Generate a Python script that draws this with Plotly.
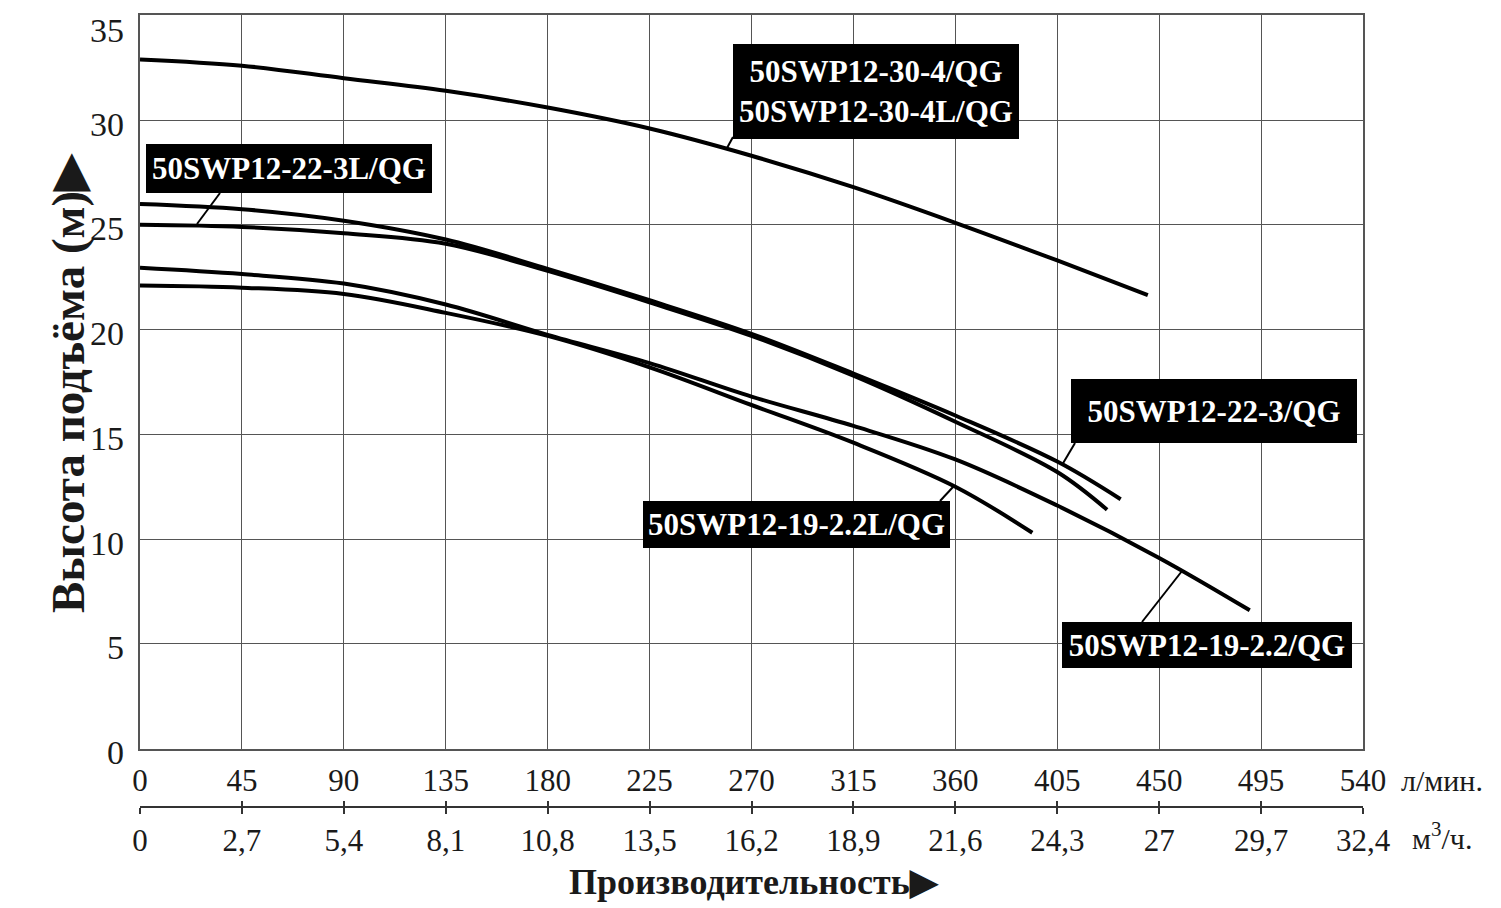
import plotly.graph_objects as go

# Pump head curves: flow (l/min) vs head (m)
flow_30_4 = [0, 45, 90, 135, 180, 225, 270, 315, 360, 405, 445]
head_30_4 = [32.9, 32.6, 32.0, 31.4, 30.6, 29.6, 28.3, 26.8, 25.1, 23.3, 21.65]

flow_22_3 = [0, 45, 90, 135, 180, 225, 270, 315, 360, 405, 433]
head_22_3 = [26.0, 25.75, 25.2, 24.3, 22.9, 21.4, 19.8, 17.9, 15.9, 13.7, 11.9]

flow_22_3l = [0, 45, 90, 135, 180, 225, 270, 315, 360, 405, 427]
head_22_3l = [25.0, 24.9, 24.6, 24.1, 22.8, 21.3, 19.7, 17.8, 15.6, 13.2, 11.4]

flow_19_22 = [0, 45, 90, 135, 180, 225, 270, 315, 360, 405, 450, 490]
head_19_22 = [22.95, 22.65, 22.2, 21.2, 19.75, 18.4, 16.8, 15.4, 13.8, 11.6, 9.1, 6.6]

flow_19_22l = [0, 45, 90, 135, 180, 225, 270, 315, 360, 394]
head_19_22l = [22.1, 22.0, 21.7, 20.8, 19.7, 18.2, 16.4, 14.6, 12.5, 10.3]

flow_ticks = [0, 45, 90, 135, 180, 225, 270, 315, 360, 405, 450, 495, 540]
m3h_ticks = ["0", "2,7", "5,4", "8,1", "10,8", "13,5", "16,2", "18,9",
             "21,6", "24,3", "27", "29,7", "32,4"]
head_ticks = [0, 5, 10, 15, 20, 25, 30, 35]

curve_labels = [
    "50SWP12-30-4/QG<br>50SWP12-30-4L/QG",
    "50SWP12-22-3L/QG",
    "50SWP12-22-3/QG",
    "50SWP12-19-2.2/QG",
    "50SWP12-19-2.2L/QG",
]

# --- page geometry (page pixels; the page body adds an 8px offset) ---
OFF = 8
W, H = 1501 - OFF, 908 - OFF
PL, PR = 140, 1363          # plot left/right
PT, PB = 15, 807            # paper top / bottom (second axis line)
AX0 = 748.5                 # y of zero-head line
FONT = "Liberation Serif"
GRID = "#555555"
INK = "#1a1a1a"
M3H = 0.06                  # l/min -> m3/h


def px(xp, yp):
    return (xp - PL) / (PR - PL), (PB - yp) / (PB - PT)


fig = go.Figure()
for fl, hd in [(flow_30_4, head_30_4), (flow_22_3, head_22_3),
               (flow_22_3l, head_22_3l), (flow_19_22, head_19_22),
               (flow_19_22l, head_19_22l)]:
    fig.add_trace(go.Scatter(
        x=fl, y=hd, mode="lines",
        line=dict(color="black", width=4, shape="spline", smoothing=1.0),
        showlegend=False, hoverinfo="skip",
    ))

# invisible copies so the m3/h axes get drawn
for ax in ("x2", "x3"):
    fig.add_trace(go.Scatter(
        x=[v * M3H for v in flow_30_4], y=head_30_4, xaxis=ax, mode="lines",
        line=dict(width=0), opacity=0, showlegend=False, hoverinfo="skip",
    ))

# label boxes: (text, centre px, width, height), pointer (from px, to px)
boxes = [
    (curve_labels[0], (876, 91.5), 286, 95, (733, 137), (727, 148)),
    (curve_labels[1], (289, 168.5), 286, 49, (220, 193), (197, 224)),
    (curve_labels[2], (1214, 411), 286, 64, (1075, 443), (1062, 465)),
    (curve_labels[3], (1207, 645), 290, 46, (1142, 622), (1182, 571)),
    (curve_labels[4], (796.5, 524.5), 307, 47, (940, 501), (953, 487)),
]

annotations = []
shapes = []
for text, (cx, cy), bw, bh, p0, p1 in boxes:
    x, y = px(cx, cy)
    annotations.append(dict(
        text=f"<b>{text}</b>", x=x, y=y, xref="paper", yref="paper",
        xanchor="center", yanchor="middle", showarrow=False,
        width=bw, height=bh, bgcolor="black", borderpad=0, borderwidth=0,
        font=dict(family=FONT, size=31, color="white"), align="center",
    ))
    x0, y0 = px(*p0)
    x1, y1 = px(*p1)
    shapes.append(dict(type="line", xref="paper", yref="paper",
                       x0=x0, y0=y0, x1=x1, y1=y1,
                       line=dict(color="black", width=2)))

# head tick labels (sit a little below their grid lines, top one inside)
for v in head_ticks:
    annotations.append(dict(
        text=str(v), x=px(126, 0)[0], y=v, xref="paper", yref="y",
        xanchor="right", yanchor="middle", showarrow=False,
        yshift=-15 if v == head_ticks[-1] else -4,
        font=dict(family=FONT, size=34, color=INK),
    ))

# axis titles and units
for text, (cx, cy), size, angle, bold in [
    ("Высота подъёма (м)▶", (68, 383), 47, -90, True),
    ("Производительность▶", (754, 882), 36, 0, True),
    ("л/мин.", (1442, 780), 30, 0, False),
    ("м<sup>3</sup>/ч.", (1442, 836), 30, 0, False),
]:
    x, y = px(cx, cy)
    annotations.append(dict(
        text=f"<b>{text}</b>" if bold else text, x=x, y=y,
        xref="paper", yref="paper", xanchor="center", yanchor="middle",
        showarrow=False, textangle=angle,
        font=dict(family=FONT, size=size, color=INK),
    ))

fig.update_layout(
    width=W, height=H,
    margin=dict(l=PL - OFF, r=W - (PR - OFF), t=PT - OFF, b=H - (PB - OFF),
                pad=0, autoexpand=False),
    paper_bgcolor="white", plot_bgcolor="white",
    font=dict(family=FONT, color=INK),
    xaxis=dict(
        range=[0, 540], tickvals=flow_ticks, showgrid=True,
        gridcolor=GRID, gridwidth=1.3, showline=True, mirror=True,
        linecolor=GRID, linewidth=2, zeroline=False, ticks="",
        tickfont=dict(size=31), ticklabelstandoff=3, anchor="y",
        automargin=False,
    ),
    xaxis2=dict(
        range=[0, 32.4], tickvals=[v * M3H for v in flow_ticks],
        ticktext=m3h_ticks, overlaying="x", anchor="free", position=0,
        side="bottom", showgrid=False, zeroline=False, showline=True,
        linecolor="#333333", linewidth=2, ticks="outside", ticklen=6,
        tickwidth=2, tickcolor="#333333", tickfont=dict(size=31),
        ticklabelstandoff=0, automargin=False,
    ),
    xaxis3=dict(
        range=[0, 32.4], tickvals=[v * M3H for v in flow_ticks],
        overlaying="x", anchor="free", position=0, side="bottom",
        showgrid=False, zeroline=False, showline=False, showticklabels=False,
        ticks="inside", ticklen=6, tickwidth=2, tickcolor="#333333",
        automargin=False,
    ),
    yaxis=dict(
        range=[0, 35.02], tickvals=head_ticks, showticklabels=False,
        domain=[(PB - AX0) / (PB - PT), 1],
        showgrid=True, gridcolor=GRID, gridwidth=1.3, showline=True,
        mirror=True, linecolor=GRID, linewidth=2, zeroline=False, ticks="",
        automargin=False,
    ),
    annotations=annotations,
    shapes=shapes,
)

fig.write_html("out.html")
